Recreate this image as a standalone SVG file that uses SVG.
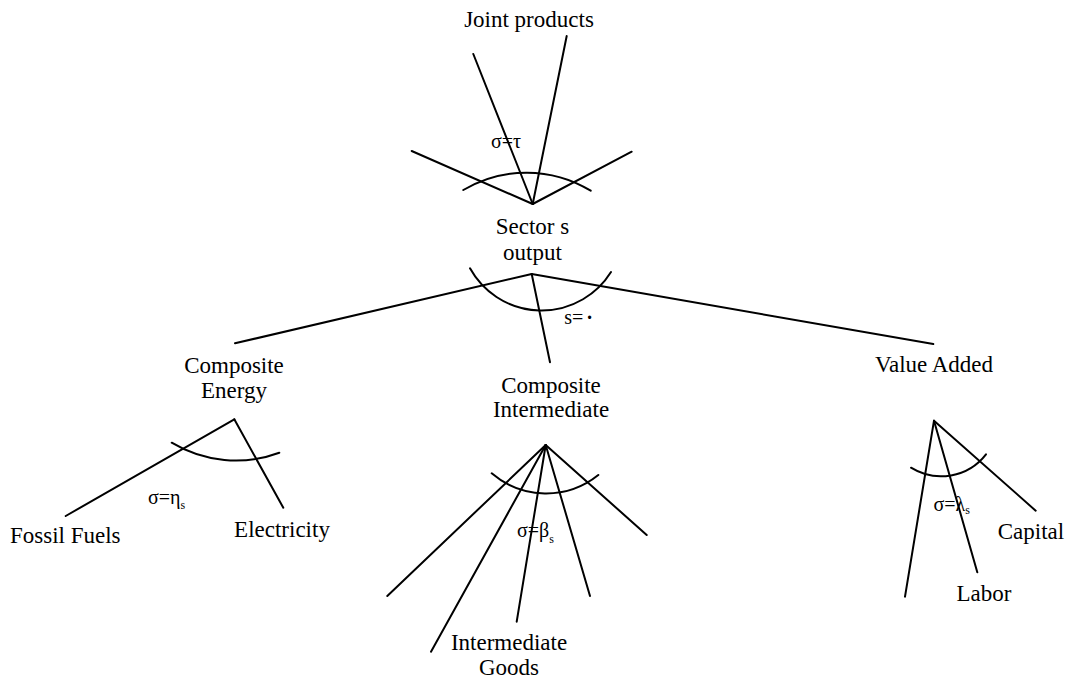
<svg xmlns="http://www.w3.org/2000/svg" width="1068" height="682" viewBox="0 0 1068 682">
<style>
.bg{fill:#ffffff}
.ln{stroke:#000;stroke-width:2;fill:none;stroke-linecap:round}
.lbl{font-family:"Liberation Serif","Times New Roman",serif;font-size:23px;fill:#000;text-anchor:middle}
.sig{font-family:"Liberation Serif","Times New Roman",serif;font-size:20px;fill:#000}
.sub{font-size:12px}
</style>
<rect class="bg" x="0" y="0" width="1068" height="682"/>
<g id="connectors">
  <line class="ln" x1="473.3" y1="54" x2="532.7" y2="204"/>
  <line class="ln" x1="566.7" y1="36" x2="532.7" y2="204"/>
  <line class="ln" x1="411.7" y1="151" x2="532.7" y2="204"/>
  <line class="ln" x1="631.7" y1="151.7" x2="532.7" y2="204"/>
  <path class="ln" d="M463.3,190 A123.5,123.5 0 0 1 590.7,190.7"/>
  <line class="ln" x1="531.7" y1="274" x2="235" y2="343.3"/>
  <line class="ln" x1="531.7" y1="274" x2="550" y2="362.3"/>
  <line class="ln" x1="531.7" y1="274" x2="933.3" y2="344"/>
  <path class="ln" d="M470,268.3 A81.8,81.8 0 0 0 611,272"/>
  <line class="ln" x1="234.3" y1="419.3" x2="65.7" y2="516"/>
  <line class="ln" x1="234.3" y1="419.3" x2="283.3" y2="507.7"/>
  <path class="ln" d="M171.7,442.7 A124.4,124.4 0 0 0 279.3,452.7"/>
  <line class="ln" x1="545.7" y1="445" x2="387.3" y2="596"/>
  <line class="ln" x1="545.7" y1="445" x2="431" y2="651.7"/>
  <line class="ln" x1="545.7" y1="445" x2="516.7" y2="621.7"/>
  <line class="ln" x1="545.7" y1="445" x2="590" y2="596"/>
  <line class="ln" x1="545.7" y1="445" x2="646.7" y2="535"/>
  <path class="ln" d="M491.7,473.3 A83.4,83.4 0 0 0 598.3,475"/>
  <line class="ln" x1="934" y1="420.7" x2="905" y2="596.7"/>
  <line class="ln" x1="934" y1="420.7" x2="977.3" y2="572.3"/>
  <line class="ln" x1="934" y1="420.7" x2="1035.7" y2="510.7"/>
  <path class="ln" d="M911,467.7 A56.9,56.9 0 0 0 986,454.3"/>
</g>
<g id="joint-products">
  <text class="lbl" x="529" y="27">Joint products</text>
</g>
<g id="sigma-tau">
  <text class="sig" x="491" y="148.3">σ=τ</text>
</g>
<g id="sector-output">
  <text class="lbl" x="532.5" y="234.3">Sector s</text>
  <text class="lbl" x="532.5" y="259.5">output</text>
</g>
<g id="sigma-sector">
  <text class="sig" x="564.3" y="324" font-size="22">s=<tspan font-weight="bold" dx="3">·</tspan></text>
</g>
<g id="composite-energy">
  <text class="lbl" x="234" y="373">Composite</text>
  <text class="lbl" x="234" y="397.7">Energy</text>
</g>
<g id="composite-intermediate">
  <text class="lbl" x="551" y="392.7">Composite</text>
  <text class="lbl" x="551" y="416.7">Intermediate</text>
</g>
<g id="value-added">
  <text class="lbl" x="934" y="371.7">Value Added</text>
</g>
<g id="sigma-eta">
  <text class="sig" x="148" y="504">σ=η<tspan class="sub" dy="5">s</tspan></text>
</g>
<g id="fossil-fuels">
  <text class="lbl" x="65.3" y="543.3">Fossil Fuels</text>
</g>
<g id="electricity">
  <text class="lbl" x="282" y="536.7">Electricity</text>
</g>
<g id="sigma-beta">
  <text class="sig" x="517" y="536.7">σ=β<tspan class="sub" dy="6">s</tspan></text>
</g>
<g id="intermediate-goods">
  <text class="lbl" x="509" y="650">Intermediate</text>
  <text class="lbl" x="509" y="675">Goods</text>
</g>
<g id="sigma-lambda">
  <text class="sig" x="933.5" y="511">σ=λ<tspan class="sub" dy="3">s</tspan></text>
</g>
<g id="capital">
  <text class="lbl" x="1031" y="539.3">Capital</text>
</g>
<g id="labor">
  <text class="lbl" x="984" y="601">Labor</text>
</g>
</svg>
